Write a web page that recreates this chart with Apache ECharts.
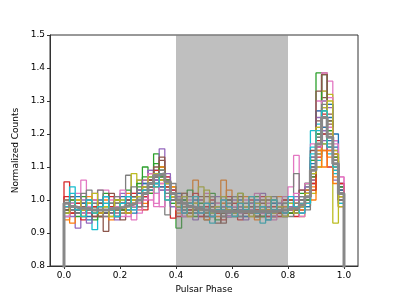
<!DOCTYPE html>
<html><head><meta charset="utf-8">
<script src="https://cdn.jsdelivr.net/npm/echarts@6/dist/echarts.min.js"></script>
<style>html,body{margin:0;padding:0;background:#fff}#c{width:399px;height:299px}</style>
</head><body><div id="c"></div>
<script>
const binCount = 50;
const xTicks = [0, 0.2, 0.4, 0.6, 0.8, 1.0];
const yTicks = [0.8, 0.9, 1.0, 1.1, 1.2, 1.3, 1.4, 1.5];
const offPulseRange = [0.4, 0.8];
const tab10 = ['#1f77b4','#ff7f0e','#2ca02c','#d62728','#9467bd','#8c564b','#e377c2','#7f7f7f','#bcbd22','#17becf'];

const meanProfile = [
 0.99,0.98,0.975,0.975,0.97,0.97,0.97,0.97,0.975,0.975,
 0.98,0.985,0.99,1.0,1.02,1.05,1.075,1.08,1.055,1.02,
 1.0,0.99,0.98,0.975,0.97,0.97,0.965,0.965,0.965,0.965,
 0.965,0.965,0.965,0.965,0.965,0.965,0.965,0.965,0.97,0.97,
 0.975,0.975,0.985,1.01,1.09,1.17,1.25,1.19,1.11,1.02];

const p00 = [0.97,0.99,0.96,0.98,0.95,0.96,0.99,0.97,0.98,0.96, 0.99,0.97,1.00,0.99,1.03,1.04,1.06,1.09,1.05,1.00, 0.99,1.01,0.97,0.96,0.98,0.95,0.97,0.98,0.96,0.97, 0.95,0.98,0.97,0.96,0.99,0.97,0.95,0.96,0.98,0.97, 0.96,0.98,0.97,1.02,1.06,1.14,1.21,1.25,1.18,1.05];
const p01 = [0.94,1.00,0.97,0.99,0.96,0.98,0.95,0.99,0.97,1.00, 0.97,1.00,0.98,1.02,0.99,1.04,1.08,1.05,1.06,1.01, 1.00,0.97,0.99,1.06,0.96,0.97,0.98,0.95,0.99,0.96, 0.98,0.96,0.97,0.99,0.96,0.95,0.98,0.97,0.96,1.00, 0.98,0.97,1.00,0.99,1.04,1.10,1.15,1.13,1.07,1.01];
const p02 = [0.98,0.97,0.99,0.96,0.98,0.97,0.95,0.98,0.99,0.96, 0.98,0.99,1.01,1.03,1.10,1.06,1.14,1.09,1.04,1.03, 0.915,0.97,0.99,0.96,0.98,0.97,0.95,0.97,0.98,0.96, 0.97,0.99,0.96,0.97,0.95,0.98,0.96,0.99,0.97,0.96, 0.98,0.97,1.00,1.04,1.13,1.385,1.30,1.24,1.12,1.03];
const p03 = [1.055,0.98,0.96,0.97,0.99,0.95,0.98,0.97,0.96,0.98, 0.97,1.00,0.99,0.98,1.02,1.05,1.07,1.04,1.03,0.945, 0.99,0.98,0.96,0.99,0.97,0.96,0.98,0.97,0.95,0.96, 0.97,0.96,0.98,0.97,0.96,0.95,0.97,0.96,0.98,0.97, 0.96,0.99,0.97,1.00,1.07,1.18,1.22,1.16,1.13,1.04];
const p04 = [0.98,0.96,0.915,0.98,0.97,0.99,0.96,0.97,0.98,0.99, 0.99,0.96,1.00,1.02,1.01,1.06,1.09,1.155,1.07,1.00, 0.98,1.00,0.97,0.96,0.95,0.98,0.97,0.96,0.97,0.95, 0.96,0.97,0.98,0.96,0.95,0.97,0.96,0.98,0.96,0.97, 0.97,0.96,0.98,1.01,1.10,1.20,1.28,1.22,1.09,1.01];
const p05 = [0.96,0.98,0.99,0.97,0.96,0.98,0.95,0.905,0.97,0.99, 0.98,0.97,0.99,1.01,1.03,1.04,1.06,1.12,1.05,1.02, 1.01,0.97,0.96,0.98,0.99,0.97,0.96,0.93,0.97,0.98, 0.96,0.98,0.97,0.99,0.96,0.97,0.98,0.95,0.97,1.00, 0.97,0.98,0.96,0.99,1.05,1.16,1.385,1.26,1.10,1.02];
const p06 = [0.97,0.99,0.98,1.06,0.97,0.96,1.03,1.03,0.98,0.96, 0.99,0.97,0.94,0.96,1.00,1.02,0.98,0.98,1.01,1.00, 0.97,0.96,0.99,0.97,0.98,0.96,0.95,0.97,0.99,0.96, 0.97,0.96,0.95,0.98,0.97,0.99,0.96,0.97,0.95,0.98, 1.04,1.135,1.00,1.02,1.12,1.27,1.33,1.36,1.15,1.07];
const p07 = [0.99,0.97,0.98,0.96,1.03,0.98,0.97,0.99,0.96,0.98, 0.97,1.075,0.99,1.03,1.02,1.05,1.08,1.06,0.955,1.01, 0.98,0.99,0.97,0.96,0.98,0.99,0.97,0.96,0.95,0.98, 0.99,0.96,0.97,0.98,0.96,0.99,0.97,0.96,0.98,0.97, 0.99,0.98,1.03,1.05,1.08,1.15,1.22,1.16,1.09,0.99];
const p08 = [0.98,0.96,0.99,0.97,0.98,0.96,0.97,0.98,0.99,0.97, 0.96,0.98,1.08,1.02,1.03,1.07,1.05,1.09,1.03,1.01, 0.97,0.98,0.96,0.99,1.04,0.97,0.96,0.98,0.97,0.96, 1.01,0.97,0.98,0.96,0.95,0.97,0.98,0.96,0.99,0.97, 0.96,0.97,0.95,0.98,1.03,1.10,1.28,1.32,0.93,1.02];
const p09 = [0.97,1.04,0.97,0.98,0.96,0.91,0.97,0.99,0.96,0.98, 1.00,0.97,0.98,1.01,1.04,1.03,1.02,1.06,1.04,1.00, 0.98,0.97,0.99,0.96,0.98,0.97,0.93,0.97,0.96,0.98, 0.97,0.98,0.96,0.97,0.99,0.93,0.97,0.98,0.96,0.99, 0.98,0.97,1.00,0.98,1.21,1.12,1.20,1.14,1.08,1.03];
const p10 = [0.99,1.01,0.97,0.96,0.98,0.97,0.99,0.96,0.98,0.97, 0.99,1.01,0.98,1.00,1.01,1.06,1.05,1.07,1.06,1.03, 0.98,1.00,0.97,0.98,0.96,0.99,0.97,0.96,0.98,0.95, 0.97,0.95,0.99,0.97,0.98,0.96,0.97,0.99,0.96,0.98, 0.97,1.00,0.98,1.03,1.08,1.16,1.22,1.18,1.16,1.04];
const p11 = [0.97,0.98,1.00,0.97,0.99,0.96,0.98,0.97,0.96,0.99, 0.98,0.96,0.99,0.98,1.03,1.02,1.04,1.07,1.06,1.04, 1.02,0.98,0.97,0.99,0.97,0.96,0.99,0.97,1.06,0.97, 0.96,0.98,0.97,0.95,0.98,0.97,0.96,0.95,0.98,0.99, 1.00,0.98,0.97,1.00,1.06,1.15,1.15,1.20,1.10,1.02];
const p12 = [0.96,0.99,0.98,0.99,0.97,0.98,0.96,1.01,0.97,0.99, 0.98,1.00,0.98,1.04,1.02,1.05,1.07,1.10,1.04,1.02, 0.99,0.98,0.96,0.97,0.99,0.96,0.98,0.97,0.96,0.99, 0.98,0.96,0.97,0.99,0.96,0.97,0.98,0.96,0.97,0.98, 0.97,0.99,0.98,1.05,1.12,1.19,1.27,1.21,1.12,1.00];
const p13 = [0.98,0.96,0.97,0.99,0.96,0.98,0.97,0.96,0.98,1.00, 0.97,0.99,1.00,0.99,1.01,1.04,1.08,1.06,1.07,1.01, 1.00,0.97,0.99,0.96,0.97,0.98,0.96,0.99,0.97,0.96, 0.98,0.97,0.96,0.98,0.97,0.96,0.99,0.97,0.95,0.97, 0.98,0.96,0.99,1.02,1.05,1.13,1.20,1.10,1.12,1.03];
const p14 = [0.99,0.97,0.98,0.96,0.99,0.97,0.98,0.96,0.97,0.98, 0.99,1.00,0.99,1.01,1.05,1.09,1.06,1.07,1.03,1.02, 0.97,0.99,0.98,0.96,0.98,0.97,0.96,0.98,0.97,0.95, 0.96,0.98,0.97,0.96,0.99,0.97,0.96,0.97,0.98,0.96, 0.97,0.98,0.97,1.00,1.06,1.14,1.18,1.15,1.06,0.98];
const p15 = [0.97,0.98,0.96,0.99,0.98,0.97,0.99,0.97,0.96,0.98, 0.99,0.97,1.01,1.00,1.02,1.04,1.07,1.09,1.06,1.00, 0.98,0.96,0.99,0.97,0.96,1.01,0.97,0.98,0.96,0.97, 0.97,0.99,0.96,0.98,0.97,0.98,0.96,0.97,0.99,0.96, 0.96,0.97,1.00,1.03,1.10,1.24,1.31,1.23,1.14,1.01];
const p16 = [0.98,0.97,0.99,0.98,0.96,1.02,0.98,0.97,0.99,1.01, 0.95,0.99,1.02,0.99,1.03,1.00,1.02,0.98,1.04,1.03, 0.99,0.97,0.96,0.98,0.97,0.99,0.96,0.97,0.98,0.96, 0.98,0.97,0.96,0.98,0.97,0.95,0.98,0.96,0.97,0.99, 0.98,1.00,1.03,1.05,1.17,1.30,1.385,1.31,1.18,1.05];
const p17 = [0.96,0.98,0.97,0.99,0.98,0.96,0.97,0.98,0.97,0.99, 0.98,0.97,1.00,1.06,0.98,1.07,1.05,1.03,1.04,1.00, 0.99,0.98,0.97,0.96,0.98,0.97,0.99,0.96,0.97,0.98, 0.96,0.97,0.99,0.97,0.96,0.98,0.97,0.99,0.96,0.97, 0.97,1.08,1.00,1.02,1.09,1.19,1.25,1.17,1.12,1.00];
const p18 = [0.99,0.97,0.98,0.97,0.99,0.96,0.97,0.98,0.95,0.97, 1.00,0.98,0.99,1.06,1.04,1.03,1.08,1.06,1.04,1.04, 0.97,0.99,0.96,0.98,0.97,0.96,0.98,0.97,0.99,0.96, 0.99,0.96,0.98,1.01,0.97,0.96,0.97,0.98,0.96,0.97, 0.98,0.97,0.96,0.99,1.02,1.14,1.33,1.29,1.15,1.01];
const p19 = [0.98,0.99,0.96,0.98,0.97,0.99,0.98,0.96,0.97,0.98, 0.99,0.97,1.01,1.00,1.02,1.07,1.05,1.09,1.03,0.99, 0.98,0.97,0.99,0.96,0.98,0.97,0.96,0.98,0.97,0.99, 0.97,0.96,0.98,0.97,0.95,0.98,0.96,0.97,0.99,0.97, 0.99,0.98,0.99,1.01,1.16,1.23,1.30,1.19,1.09,0.99];
const p20 = [0.95,0.97,1.01,0.99,0.94,0.97,1.00,0.96,0.99,0.95, 1.01,0.98,0.96,1.02,1.05,1.03,1.09,1.04,1.02,0.98, 1.02,0.95,0.98,1.00,0.96,0.94,0.99,0.97,1.01,0.95, 0.98,1.00,0.95,0.97,1.00,0.96,0.94,0.99,0.97,0.95, 0.99,0.96,1.01,0.98,1.11,1.27,1.17,1.29,1.20,1.03];
const p21 = [1.00,0.93,0.98,0.95,1.01,0.97,0.96,1.00,0.94,0.98, 0.96,1.02,1.00,0.97,1.06,1.08,1.04,1.10,1.00,1.04, 0.96,1.02,0.95,0.98,1.00,0.94,1.01,0.96,0.99,1.03, 0.95,0.99,1.01,0.96,0.94,1.00,0.97,0.95,1.01,0.98, 1.00,0.99,0.97,1.03,1.00,1.22,1.10,1.15,1.05,0.98];
const p22 = [0.97,1.00,0.95,1.01,0.97,0.94,0.99,1.02,0.96,1.00, 0.97,1.03,0.98,1.05,1.07,1.02,1.11,1.07,1.06,0.99, 0.98,1.00,1.03,0.95,0.99,0.97,1.02,0.94,0.98,1.00, 0.96,1.02,0.97,0.99,1.01,0.95,0.98,1.00,0.96,0.99, 0.96,0.98,1.02,1.00,1.07,1.20,1.38,1.21,1.13,1.04];
const p23 = [1.01,0.96,0.99,0.94,0.98,1.00,0.96,0.97,1.01,0.95, 0.99,0.96,1.02,1.00,0.97,1.06,1.09,1.08,1.04,1.03, 0.95,0.99,0.97,1.02,0.95,0.98,1.00,0.96,0.94,1.01, 0.99,0.94,0.98,1.00,0.97,1.01,0.95,0.98,0.96,1.00, 0.97,0.95,0.98,1.01,1.03,1.16,1.26,1.19,1.14,1.05];
const p24 = [0.99,0.95,0.98,1.00,0.93,0.99,0.97,1.01,0.96,0.94, 1.02,0.99,0.97,1.03,1.06,1.09,1.06,1.03,1.08,0.98, 1.01,0.96,0.98,0.94,1.00,0.97,0.95,1.01,0.98,0.96, 1.00,0.97,0.94,0.99,0.96,1.02,0.98,0.95,0.99,0.96, 0.98,1.01,0.96,1.04,1.13,1.25,1.21,1.28,1.12,1.00];
const p25 = [0.97,1.01,0.96,0.98,1.00,0.95,0.99,0.96,1.02,0.97, 0.94,1.00,1.01,0.98,1.04,1.06,1.10,1.13,1.03,1.01, 0.99,1.02,0.96,0.97,1.01,0.95,0.98,0.99,0.93,1.00, 0.97,1.01,0.96,0.98,0.95,0.99,1.00,0.96,0.98,0.95, 1.00,0.97,1.03,0.99,1.15,1.33,1.38,1.24,1.11,1.00];
const p26 = [0.95,0.99,1.02,0.96,0.98,1.00,0.97,0.95,1.00,0.98, 1.03,0.95,0.98,0.97,1.00,1.08,0.99,1.05,1.03,1.02, 0.97,0.95,1.00,0.98,0.96,1.02,0.97,0.99,1.00,0.95, 0.98,0.96,1.00,0.97,1.02,0.96,0.99,0.94,0.97,1.01, 0.97,1.02,0.95,0.99,1.09,1.16,1.30,1.22,1.17,1.07];
const p27 = [1.00,0.97,0.96,1.02,0.97,0.99,1.03,0.95,0.99,1.01, 0.96,0.99,1.04,0.98,1.03,1.04,1.07,1.09,1.02,1.05, 0.99,0.97,1.01,0.97,0.98,0.96,1.01,0.97,0.95,0.99, 1.01,0.95,0.99,0.96,0.98,1.00,0.96,1.01,0.97,0.99, 0.95,0.99,1.01,0.97,1.10,1.19,1.29,1.20,1.12,1.00];
const p28 = [0.96,0.98,1.00,0.95,0.99,1.02,0.96,0.98,0.95,1.00, 0.98,0.96,1.00,1.01,1.04,1.07,1.08,1.06,1.05,1.01, 0.98,1.01,0.95,0.99,0.97,1.03,0.96,0.98,1.01,0.97, 0.96,1.02,0.98,0.95,0.99,0.97,1.01,0.96,0.98,0.95, 0.99,0.96,0.98,1.02,1.08,1.22,1.17,1.30,1.14,0.98];
const p29 = [0.99,1.02,0.97,0.95,1.00,0.96,0.98,1.01,0.97,0.95, 0.99,1.01,0.97,1.00,1.03,1.05,1.04,1.08,1.00,1.02, 1.00,0.96,0.98,1.01,0.96,0.99,0.95,0.97,1.00,0.98, 0.95,0.99,0.97,1.01,0.96,0.98,0.94,1.00,0.97,0.96, 1.01,0.98,0.96,0.99,1.14,1.21,1.27,1.16,1.10,1.02];

const profiles = [p00,p01,p02,p03,p04,p05,p06,p07,p08,p09,p10,p11,p12,p13,p14,p15,p16,p17,p18,p19,
                  p20,p21,p22,p23,p24,p25,p26,p27,p28,p29];

function stepData(vals) {
  const pts = [[0, 0]];
  vals.forEach((v, i) => pts.push([i / binCount, v]));
  pts.push([1, vals[vals.length - 1]]);
  pts.push([1, 0]);
  return pts;
}

const font = 'DejaVu Sans';
const series = profiles.map((p, k) => ({
  type: 'line', step: 'end', showSymbol: false, symbol: 'none', silent: true,
  data: stepData(p), z: 2,
  lineStyle: { color: tab10[k % 10], width: 1.3 }
}));
series.push({
  type: 'line', step: 'end', showSymbol: false, symbol: 'none', silent: true,
  data: stepData(meanProfile), z: 3,
  lineStyle: { color: '#888888', width: 3 }
});
series.push({
  type: 'custom', z: 10, silent: true,
  data: [[offPulseRange[0], offPulseRange[1], yTicks[0], yTicks[yTicks.length - 1]]],
  encode: { x: [0, 1], y: [2, 3] },
  renderItem: function (params, api) {
    const a = api.coord([api.value(0), api.value(3)]);
    const b = api.coord([api.value(1), api.value(2)]);
    return { type: 'rect', shape: { x: a[0], y: a[1], width: b[0] - a[0], height: b[1] - a[1] },
      style: { fill: 'rgba(128,128,128,0.5)' } };
  }
});

const chart = echarts.init(document.getElementById('c'), null, { renderer: 'canvas' });
chart.setOption({
  animation: false,
  backgroundColor: '#fff',
  grid: { left: 50, top: 35, right: 41, bottom: 33, show: true, borderColor: '#333', borderWidth: 1, backgroundColor: 'transparent' },
  xAxis: {
    type: 'value', min: -0.05, max: 1.05,
    name: 'Pulsar Phase', nameLocation: 'middle', nameGap: 14,
    nameTextStyle: { fontFamily: font, fontSize: 9, color: '#000' },
    axisLine: { show: true, onZero: false, lineStyle: { color: '#333', width: 1 } },
    axisTick: { show: true, length: 3, customValues: xTicks, lineStyle: { color: '#333' } },
    axisLabel: { customValues: xTicks, margin: 5, fontFamily: font, fontSize: 9, color: '#000', formatter: v => v.toFixed(1) },
    splitLine: { show: false }
  },
  yAxis: {
    type: 'value', min: 0.8, max: 1.5,
    name: 'Normalized Counts', nameLocation: 'middle', nameGap: 24, nameRotate: 90,
    nameTextStyle: { fontFamily: font, fontSize: 9, color: '#000' },
    axisLine: { show: true, onZero: false, lineStyle: { color: '#333', width: 1 } },
    axisTick: { show: true, length: 3, customValues: yTicks, lineStyle: { color: '#333' } },
    axisLabel: { customValues: yTicks, margin: 5, fontFamily: font, fontSize: 9, color: '#000', formatter: v => v.toFixed(1) },
    splitLine: { show: false }
  },
  series: series
});
</script>
</body></html>
